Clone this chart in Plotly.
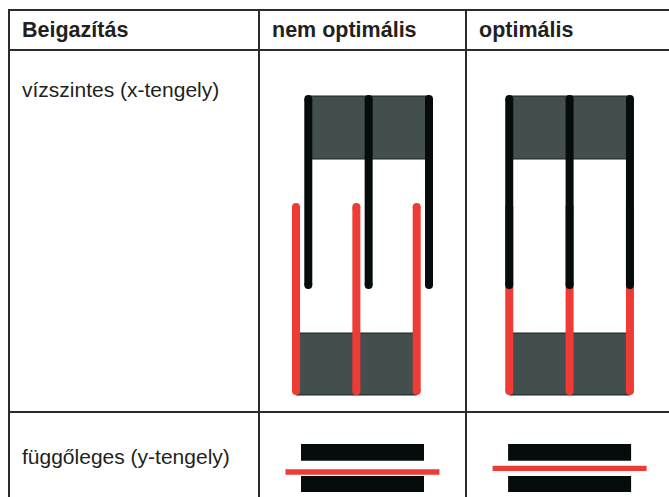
import plotly.graph_objects as go

# ---------------- data ----------------
header_labels = ["Beigazítás", "nem optimális", "optimális"]
row_labels = ["vízszintes (x-tengely)", "függőleges (y-tengely)"]
case_names = ["nem optimális", "optimális"]
pin_index = [-1, 0, 1]                 # three pins per diagram
x_misalignment = [12.3, 0.0]           # red vs. black horizontal offset (px)
y_misalignment = [3.6, 0.0]            # red vs. gap vertical offset (px)

# ---------------- layout constants ----------------
W, H = 669, 497
LINE_C = "#2b2b2b"
TEXT_C = "#231f20"
BLACK = "#050c0b"
GRAY = "#434f4f"
RED = "#ee3b35"
FONT = "Liberation Sans, Arial, sans-serif"

col_left = [9, 259, 466]
row_top = [10, 50, 412]
diag_center = [362.5, 569.6]
pitch = 60.35

fig = go.Figure()
shapes = []
annotations = []

# table grid
for y in row_top:
    shapes.append(dict(type="line", xref="x", yref="y", x0=8, x1=W, y0=y, y1=y,
                       line=dict(color=LINE_C, width=2), layer="above"))
for x in col_left:
    shapes.append(dict(type="line", xref="x", yref="y", x0=x, x1=x, y0=9, y1=H,
                       line=dict(color=LINE_C, width=2), layer="above"))

# header text
for i, lab in enumerate(header_labels):
    annotations.append(dict(x=col_left[i] + 11, y=30, xref="x", yref="y", text="<b>" + lab + "</b>",
                            showarrow=False, xanchor="left", yanchor="middle",
                            font=dict(family=FONT, size=21.5, color=TEXT_C)))
# row labels
row_label_y = [89, 456]
for i, lab in enumerate(row_labels):
    annotations.append(dict(x=col_left[0] + 11, y=row_label_y[i], xref="x", yref="y", text=lab,
                            showarrow=False, xanchor="left", yanchor="middle",
                            font=dict(family=FONT, size=21, color=TEXT_C)))

# ---- horizontal (x) alignment diagrams ----
black_top, black_bot = 99, 285
red_top, red_bot = 207, 391
top_rect = (96, 159)
bot_rect = (333, 395)
for k, name in enumerate(case_names):
    c = diag_center[k]
    bx = [c + x_misalignment[k] / 2 + p * pitch for p in pin_index]
    rx = [c - x_misalignment[k] / 2 + p * pitch for p in pin_index]
    shapes.append(dict(type="rect", xref="x", yref="y", x0=bx[0], x1=bx[-1], y0=top_rect[0], y1=top_rect[1],
                       fillcolor=GRAY, line=dict(color="#1c2323", width=1), layer="below"))
    shapes.append(dict(type="rect", xref="x", yref="y", x0=rx[0], x1=rx[-1], y0=bot_rect[0], y1=bot_rect[1],
                       fillcolor=GRAY, line=dict(color="#1c2323", width=1), layer="below"))
    for x in rx:
        fig.add_trace(go.Scatter(x=[x, x], y=[red_top, red_bot], mode="lines+markers",
                                 line=dict(color=RED, width=8),
                                 marker=dict(color=RED, size=8, line=dict(width=0)),
                                 hoverinfo="skip", showlegend=False))
    for x in bx:
        fig.add_trace(go.Scatter(x=[x, x], y=[black_top, black_bot], mode="lines+markers",
                                 line=dict(color=BLACK, width=8),
                                 marker=dict(color=BLACK, size=8, line=dict(width=0)),
                                 hoverinfo="skip", showlegend=False))

# ---- vertical (y) alignment diagrams ----
bar_w = 123
bar_top = (444, 460.7)
bar_bot = (476, 492)
gap_mid = (bar_top[1] + bar_bot[0]) / 2
red_len = 154
for k, name in enumerate(case_names):
    c = diag_center[k]
    for (y0, y1) in (bar_top, bar_bot):
        shapes.append(dict(type="rect", xref="x", yref="y", x0=c - bar_w / 2, x1=c + bar_w / 2,
                           y0=y0, y1=y1, fillcolor=BLACK, line=dict(width=0), layer="below"))
    ry = gap_mid + y_misalignment[k]
    fig.add_trace(go.Scatter(x=[c - red_len / 2, c + red_len / 2], y=[ry, ry], mode="lines",
                             line=dict(color=RED, width=5.4), hoverinfo="skip", showlegend=False))

fig.update_layout(
    width=W, height=H, margin=dict(l=0, r=0, t=0, b=0),
    paper_bgcolor="white", plot_bgcolor="white",
    xaxis=dict(range=[0, W], visible=False, fixedrange=True),
    yaxis=dict(range=[H, 0], visible=False, fixedrange=True),
    shapes=shapes, annotations=annotations, showlegend=False,
)

fig.write_html("out.html", config={"displayModeBar": False},
               post_script="document.body.style.margin='0px';document.body.style.overflow='hidden';")
